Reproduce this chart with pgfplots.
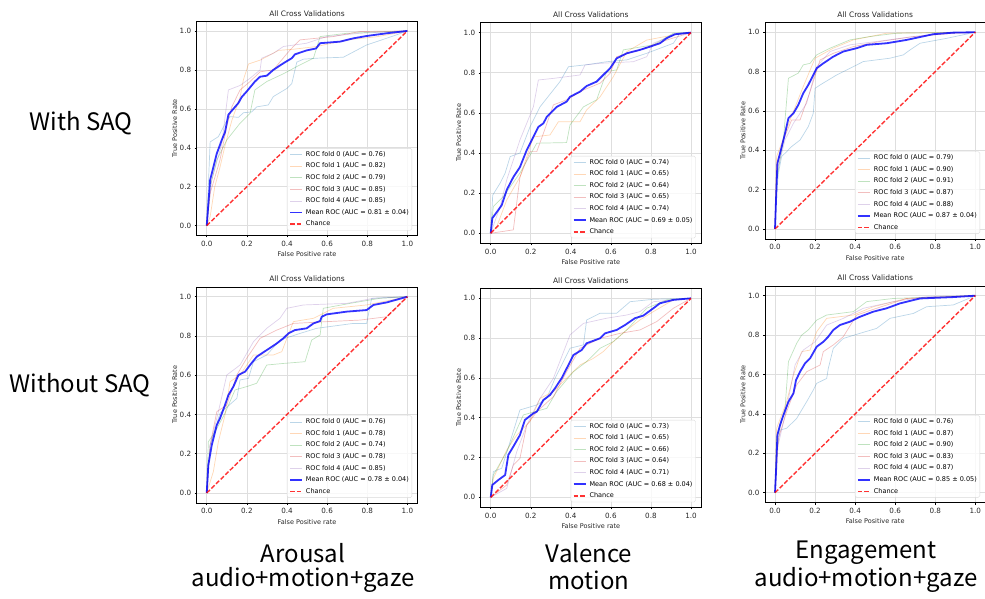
\documentclass[border=0pt]{standalone}
\usepackage{fontspec}
\setmainfont{DejaVu Sans}
\newfontfamily\jpfont{Noto Sans CJK JP}
\usepackage{pgfplots}
\pgfplotsset{compat=1.18}
\definecolor{c0}{HTML}{1F77B4}
\definecolor{c1}{HTML}{FF7F0E}
\definecolor{c2}{HTML}{2CA02C}
\definecolor{c3}{HTML}{D62728}
\definecolor{c4}{HTML}{9467BD}
\pgfplotsset{
  roc/.style={
    scale only axis, anchor=south west,
    xmin=-0.05, xmax=1.05, ymin=-0.05, ymax=1.05,
    xtick={0,0.2,0.4,0.6,0.8,1}, ytick={0,0.2,0.4,0.6,0.8,1},
    /pgf/number format/fixed, /pgf/number format/fixed zerofill,
    /pgf/number format/precision=1, /pgf/number format/assume math mode=true,
    tick label style={font=\fontsize{7.2}{8}\selectfont, text=black!85},
    grid=major, major grid style={black!13, line width=0.6pt},
    tick align=outside, tick pos=left, major tick length=2pt,
    every tick/.style={black, line width=0.5pt},
    axis line style={black, line width=0.5pt},
    title={All Cross Validations},
    every axis title shift=1.5pt,
    title style={font=\fontsize{7.5}{8}\selectfont, text=black!85},
    xlabel={False Positive rate}, ylabel={True Positive Rate},
    label style={font=\fontsize{6.5}{7}\selectfont, text=black!85},
    xlabel style={at={(axis description cs:0.5,0)}, anchor=center, yshift=-19pt},
    ylabel style={at={(axis description cs:0,0.5)}, anchor=center, yshift=22pt},
    no marks,
    legend cell align=left,
    legend style={at={(0.976,0.023)}, anchor=south east, draw=black!15, rounded corners=1.5pt,
      fill=white, fill opacity=0.8, text opacity=1, font=\fontsize{6.5}{7}\selectfont,
      inner sep=2pt, row sep=3.3pt, column sep=2pt,
      nodes={inner sep=1pt, text height=5pt, text depth=1.3pt}},
    legend image code/.code={\draw[##1] (0pt,0pt) -- (12pt,0pt);},
  },
  f0/.style={color=c0, draw opacity=0.3, line width=0.7pt, line join=round},
  f1/.style={color=c1, draw opacity=0.3, line width=0.7pt, line join=round},
  f2/.style={color=c2, draw opacity=0.3, line width=0.7pt, line join=round},
  f3/.style={color=c3, draw opacity=0.3, line width=0.7pt, line join=round},
  f4/.style={color=c4, draw opacity=0.3, line width=0.7pt, line join=round},
  mean/.style={color=blue, draw opacity=0.8, line width=1.8pt, line join=round},
  chance/.style={color=red, draw opacity=0.8, line width=1.4pt, dash pattern=on 4.5pt off 2pt},
}
\begin{document}
\begin{tikzpicture}
\path[use as bounding box] (0,0) rectangle (985pt,598pt);

% row / column labels
\node[font=\jpfont\fontsize{24}{26}\selectfont] at (81pt,475pt) {With SAQ};
\node[font=\jpfont\fontsize{24}{26}\selectfont] at (80pt,213pt) {Without SAQ};
\node[font=\jpfont\fontsize{24}{26}\selectfont] at (303pt,45pt) {Arousal};
\node[font=\jpfont\fontsize{24}{26}\selectfont] at (303pt,18pt) {audio+motion+gaze};
\node[font=\jpfont\fontsize{24}{26}\selectfont] at (589pt,45pt) {Valence};
\node[font=\jpfont\fontsize{24}{26}\selectfont] at (589pt,18pt) {motion};
\node[font=\jpfont\fontsize{24}{26}\selectfont] at (866pt,45pt) {Engagement};
\node[font=\jpfont\fontsize{24}{26}\selectfont] at (866pt,18pt) {audio+motion+gaze};

% Arousal, with SAQ
\begin{axis}[roc, at={(196.7pt,362.6pt)}, width=220.7pt, height=214.2pt]
\addplot[f0] coordinates {(0,0)(0.017,0.43)(0.058,0.457)(0.1,0.54)(0.116,0.56)(0.158,0.556)(0.183,0.58)(0.224,0.584)(0.249,0.61)(0.307,0.62)(0.332,0.663)(0.4,0.705)(0.424,0.73)(0.449,0.84)(0.482,0.855)(0.548,0.86)(0.681,0.865)(0.797,0.928)(0.93,0.974)(1,1)};
\addplot[f1] coordinates {(0,0)(0.017,0.046)(0.04,0.2)(0.066,0.30)(0.091,0.41)(0.125,0.54)(0.166,0.66)(0.183,0.75)(0.208,0.83)(0.266,0.85)(0.316,0.877)(0.357,0.90)(0.432,0.906)(0.548,0.92)(0.698,0.954)(0.847,0.97)(1,1)};
\addplot[f2] coordinates {(0,0)(0.017,0.2)(0.05,0.337)(0.1,0.44)(0.166,0.526)(0.216,0.577)(0.24,0.697)(0.299,0.74)(0.382,0.78)(0.449,0.817)(0.532,0.86)(0.565,0.971)(0.698,0.988)(1,1)};
\addplot[f3] coordinates {(0,0)(0.017,0.166)(0.066,0.337)(0.1,0.51)(0.125,0.61)(0.166,0.697)(0.216,0.74)(0.266,0.79)(0.332,0.80)(0.415,0.902)(0.465,0.954)(0.631,0.971)(0.764,0.997)(1,1)};
\addplot[f4] coordinates {(0,0)(0.025,0.235)(0.075,0.42)(0.108,0.697)(0.166,0.72)(0.216,0.757)(0.266,0.80)(0.274,0.86)(0.332,0.885)(0.382,0.92)(0.498,0.937)(0.598,0.971)(0.764,0.988)(1,1)};
\addplot[mean] coordinates {(0,0)(0.017,0.235)(0.033,0.30)(0.05,0.37)(0.075,0.44)(0.091,0.48)(0.108,0.57)(0.133,0.60)(0.158,0.63)(0.174,0.66)(0.2,0.69)(0.216,0.71)(0.24,0.74)(0.266,0.765)(0.299,0.77)(0.332,0.80)(0.382,0.834)(0.424,0.86)(0.44,0.88)(0.498,0.90)(0.545,0.91)(0.565,0.937)(0.664,0.945)(0.731,0.962)(0.797,0.974)(0.897,0.988)(1,1)};
\addplot[chance] coordinates {(0,0)(1,1)};
\legend{ROC fold 0 (AUC = 0.76),ROC fold 1 (AUC = 0.82),ROC fold 2 (AUC = 0.79),ROC fold 3 (AUC = 0.85),ROC fold 4 (AUC = 0.85),Mean ROC (AUC = 0.81 ± 0.04),Chance}
\end{axis}

% Valence, with SAQ
\begin{axis}[roc, at={(480.7pt,354.7pt)}, width=220.3pt, height=220.7pt]
\addplot[f0] coordinates {(0,0)(0.01,0.19)(0.047,0.25)(0.072,0.30)(0.097,0.382)(0.146,0.40)(0.196,0.53)(0.246,0.63)(0.346,0.756)(0.388,0.83)(0.479,0.84)(0.579,0.855)(0.679,0.864)(0.779,0.897)(0.912,0.947)(0.945,0.997)(1,1)};
\addplot[f1] coordinates {(0,0)(0.03,0.033)(0.08,0.166)(0.146,0.28)(0.213,0.48)(0.296,0.49)(0.338,0.556)(0.446,0.556)(0.479,0.615)(0.546,0.68)(0.612,0.78)(0.679,0.905)(0.779,0.963)(0.912,0.988)(1,1)};
\addplot[f2] coordinates {(0,0)(0.013,0.133)(0.063,0.183)(0.146,0.3)(0.23,0.449)(0.379,0.452)(0.396,0.54)(0.463,0.63)(0.529,0.665)(0.579,0.806)(0.629,0.814)(0.662,0.914)(0.812,0.939)(0.912,0.997)(1,1)};
\addplot[f3] coordinates {(0,0)(0.113,0.017)(0.146,0.28)(0.196,0.407)(0.23,0.407)(0.263,0.498)(0.313,0.64)(0.379,0.665)(0.463,0.714)(0.546,0.748)(0.596,0.797)(0.629,0.88)(0.745,0.914)(0.878,0.963)(1,1)};
\addplot[f4] coordinates {(0,0)(0.047,0.133)(0.08,0.266)(0.146,0.465)(0.213,0.63)(0.238,0.764)(0.313,0.772)(0.446,0.789)(0.471,0.839)(0.546,0.847)(0.712,0.855)(0.779,0.88)(0.812,0.947)(0.912,0.988)(1,1)};
\addplot[mean] coordinates {(0,0)(0.008,0.075)(0.038,0.116)(0.055,0.14)(0.08,0.216)(0.113,0.28)(0.146,0.33)(0.18,0.415)(0.213,0.48)(0.238,0.53)(0.263,0.548)(0.28,0.58)(0.33,0.63)(0.379,0.656)(0.396,0.68)(0.446,0.706)(0.479,0.734)(0.529,0.756)(0.57,0.797)(0.596,0.822)(0.629,0.872)(0.679,0.897)(0.745,0.914)(0.795,0.93)(0.845,0.947)(0.878,0.972)(0.92,0.992)(1,1)};
\addplot[chance] coordinates {(0,0)(1,1)};
\legend{ROC fold 0 (AUC = 0.74),ROC fold 1 (AUC = 0.65),ROC fold 2 (AUC = 0.64),ROC fold 3 (AUC = 0.65),ROC fold 4 (AUC = 0.74),Mean ROC (AUC = 0.69 ± 0.05),Chance}
\end{axis}

% Engagement, with SAQ
\begin{axis}[roc, at={(765pt,359.2pt)}, width=220.3pt, height=216.4pt]
\addplot[f0] coordinates {(0,0)(0.005,0.147)(0.017,0.283)(0.033,0.368)(0.058,0.393)(0.083,0.419)(0.125,0.452)(0.166,0.52)(0.191,0.588)(0.2,0.715)(0.225,0.732)(0.308,0.783)(0.391,0.825)(0.441,0.851)(0.574,0.868)(0.641,0.885)(0.674,0.91)(0.724,0.944)(0.857,0.969)(1,1)};
\addplot[f1] coordinates {(0,0)(0.008,0.368)(0.033,0.436)(0.075,0.554)(0.141,0.724)(0.2,0.868)(0.291,0.919)(0.391,0.961)(0.557,0.995)(1,1)};
\addplot[f2] coordinates {(0,0)(0.008,0.249)(0.042,0.453)(0.067,0.766)(0.116,0.792)(0.141,0.834)(0.175,0.842)(0.208,0.885)(0.275,0.919)(0.374,0.961)(0.474,0.978)(0.607,0.995)(1,1)};
\addplot[f3] coordinates {(0,0)(0.008,0.317)(0.042,0.453)(0.083,0.554)(0.125,0.554)(0.175,0.698)(0.225,0.859)(0.291,0.893)(0.391,0.927)(0.524,0.953)(0.691,0.978)(0.89,0.995)(1,1)};
\addplot[f4] coordinates {(0,0)(0.008,0.283)(0.05,0.453)(0.092,0.537)(0.158,0.639)(0.208,0.825)(0.275,0.902)(0.374,0.936)(0.507,0.953)(0.691,0.978)(0.89,0.995)(1,1)};
\addplot[mean] coordinates {(0,0)(0.005,0.147)(0.012,0.334)(0.025,0.385)(0.038,0.436)(0.05,0.486)(0.067,0.563)(0.092,0.588)(0.116,0.63)(0.141,0.69)(0.166,0.732)(0.208,0.817)(0.241,0.842)(0.291,0.876)(0.341,0.902)(0.408,0.919)(0.458,0.936)(0.557,0.944)(0.657,0.961)(0.79,0.99)(0.89,0.998)(1,1)};
\addplot[chance] coordinates {(0,0)(1,1)};
\legend{ROC fold 0 (AUC = 0.79),ROC fold 1 (AUC = 0.90),ROC fold 2 (AUC = 0.91),ROC fold 3 (AUC = 0.87),ROC fold 4 (AUC = 0.88),Mean ROC (AUC = 0.87 ± 0.04),Chance}
\end{axis}

% Arousal, without SAQ
\begin{axis}[roc, at={(196.7pt,95.2pt)}, width=220.7pt, height=215.9pt]
\addplot[f0] coordinates {(0,0)(0.017,0.244)(0.066,0.406)(0.15,0.482)(0.166,0.576)(0.208,0.584)(0.233,0.669)(0.299,0.703)(0.365,0.779)(0.415,0.796)(0.465,0.813)(0.548,0.839)(0.731,0.864)(0.797,0.864)(0.822,0.992)(1,1)};
\addplot[f1] coordinates {(0,0)(0.033,0.109)(0.058,0.261)(0.091,0.397)(0.116,0.567)(0.166,0.601)(0.233,0.703)(0.332,0.703)(0.374,0.72)(0.432,0.873)(0.532,0.89)(0.631,0.941)(0.797,0.958)(1,1)};
\addplot[f2] coordinates {(0,0)(0.008,0.261)(0.042,0.312)(0.091,0.406)(0.141,0.525)(0.199,0.542)(0.249,0.559)(0.299,0.652)(0.382,0.66)(0.49,0.669)(0.523,0.779)(0.565,0.805)(0.581,0.941)(0.714,0.966)(0.864,0.992)(1,1)};
\addplot[f3] coordinates {(0,0)(0.017,0.244)(0.05,0.414)(0.1,0.448)(0.15,0.601)(0.199,0.686)(0.266,0.788)(0.349,0.83)(0.432,0.864)(0.598,0.873)(0.764,0.881)(0.897,0.898)(1,1)};
\addplot[f4] coordinates {(0,0)(0.017,0.244)(0.058,0.414)(0.1,0.601)(0.166,0.652)(0.233,0.771)(0.299,0.839)(0.365,0.89)(0.399,0.941)(0.482,0.958)(0.698,0.966)(0.831,0.992)(1,1)};
\addplot[mean] coordinates {(0,0)(0.008,0.143)(0.025,0.244)(0.05,0.346)(0.066,0.38)(0.091,0.448)(0.108,0.499)(0.133,0.542)(0.158,0.601)(0.191,0.618)(0.216,0.652)(0.249,0.694)(0.299,0.728)(0.349,0.762)(0.382,0.788)(0.407,0.813)(0.44,0.83)(0.498,0.839)(0.532,0.864)(0.565,0.876)(0.573,0.898)(0.598,0.91)(0.698,0.924)(0.797,0.932)(0.831,0.958)(0.897,0.971)(1,1)};
\addplot[chance] coordinates {(0,0)(1,1)};
\legend{ROC fold 0 (AUC = 0.76),ROC fold 1 (AUC = 0.78),ROC fold 2 (AUC = 0.74),ROC fold 3 (AUC = 0.78),ROC fold 4 (AUC = 0.85),Mean ROC (AUC = 0.78 ± 0.04),Chance}
\end{axis}

% Valence, without SAQ
\begin{axis}[roc, at={(480.7pt,90.75pt)}, width=220.3pt, height=218.9pt]
\addplot[f0] coordinates {(0,0)(0.013,0.129)(0.055,0.146)(0.097,0.28)(0.146,0.439)(0.23,0.464)(0.28,0.497)(0.321,0.598)(0.396,0.749)(0.463,0.766)(0.479,0.891)(0.546,0.925)(0.629,0.925)(0.696,0.983)(0.812,0.995)(1,1)};
\addplot[f1] coordinates {(0,0)(0.013,0.095)(0.08,0.238)(0.13,0.313)(0.196,0.38)(0.246,0.497)(0.313,0.531)(0.379,0.598)(0.446,0.665)(0.512,0.698)(0.562,0.732)(0.612,0.782)(0.679,0.841)(0.745,0.891)(0.812,0.933)(0.912,0.992)(1,1)};
\addplot[f2] coordinates {(0,0)(0.013,0.112)(0.08,0.229)(0.163,0.414)(0.28,0.447)(0.329,0.531)(0.413,0.631)(0.479,0.682)(0.546,0.749)(0.612,0.782)(0.679,0.841)(0.779,0.95)(0.879,0.992)(1,1)};
\addplot[f3] coordinates {(0,0)(0.08,0.062)(0.113,0.162)(0.146,0.196)(0.18,0.363)(0.23,0.43)(0.313,0.506)(0.379,0.631)(0.446,0.749)(0.546,0.799)(0.646,0.824)(0.745,0.841)(0.829,0.883)(0.912,0.95)(1,1)};
\addplot[f4] coordinates {(0,0)(0.08,0.045)(0.13,0.229)(0.18,0.363)(0.246,0.497)(0.313,0.598)(0.396,0.816)(0.463,0.874)(0.579,0.9)(0.679,0.916)(0.745,0.933)(0.812,0.983)(1,1)};
\addplot[mean] coordinates {(0,0)(0.008,0.062)(0.038,0.087)(0.072,0.112)(0.088,0.213)(0.113,0.255)(0.146,0.313)(0.171,0.389)(0.213,0.422)(0.23,0.43)(0.263,0.489)(0.296,0.514)(0.321,0.548)(0.354,0.598)(0.388,0.665)(0.413,0.715)(0.454,0.74)(0.479,0.774)(0.546,0.799)(0.571,0.824)(0.629,0.841)(0.671,0.866)(0.72,0.9)(0.762,0.913)(0.812,0.95)(0.845,0.975)(0.912,0.992)(1,1)};
\addplot[chance] coordinates {(0,0)(1,1)};
\legend{ROC fold 0 (AUC = 0.73),ROC fold 1 (AUC = 0.65),ROC fold 2 (AUC = 0.66),ROC fold 3 (AUC = 0.64),ROC fold 4 (AUC = 0.71),Mean ROC (AUC = 0.68 ± 0.04),Chance}
\end{axis}

% Engagement, without SAQ
\begin{axis}[roc, at={(765pt,95.45pt)}, width=220.3pt, height=216.7pt]
\addplot[f0] coordinates {(0,0)(0.008,0.208)(0.025,0.318)(0.058,0.327)(0.108,0.377)(0.158,0.462)(0.191,0.521)(0.208,0.555)(0.258,0.58)(0.266,0.631)(0.291,0.733)(0.341,0.783)(0.424,0.809)(0.507,0.834)(0.574,0.885)(0.691,0.91)(0.757,0.944)(0.89,0.953)(1,1)};
\addplot[f1] coordinates {(0,0)(0.008,0.327)(0.058,0.462)(0.092,0.597)(0.133,0.716)(0.175,0.724)(0.208,0.817)(0.258,0.885)(0.391,0.902)(0.491,0.944)(0.657,0.986)(1,1)};
\addplot[f2] coordinates {(0,0)(0.008,0.276)(0.05,0.428)(0.067,0.665)(0.108,0.758)(0.133,0.8)(0.166,0.826)(0.208,0.876)(0.258,0.902)(0.391,0.919)(0.458,0.97)(0.591,0.986)(1,1)};
\addplot[f3] coordinates {(0,0)(0.017,0.276)(0.058,0.411)(0.108,0.547)(0.158,0.614)(0.225,0.648)(0.241,0.716)(0.291,0.75)(0.341,0.792)(0.408,0.902)(0.507,0.936)(0.657,0.986)(1,1)};
\addplot[f4] coordinates {(0,0)(0.008,0.208)(0.058,0.428)(0.1,0.648)(0.141,0.724)(0.2,0.766)(0.258,0.851)(0.341,0.885)(0.441,0.936)(0.591,0.97)(0.757,0.995)(1,1)};
\addplot[mean] coordinates {(0,0)(0.005,0.107)(0.012,0.293)(0.025,0.343)(0.042,0.394)(0.067,0.462)(0.092,0.504)(0.105,0.572)(0.125,0.614)(0.15,0.657)(0.175,0.682)(0.208,0.741)(0.241,0.766)(0.266,0.792)(0.291,0.826)(0.324,0.851)(0.374,0.868)(0.424,0.893)(0.491,0.919)(0.557,0.936)(0.624,0.961)(0.724,0.986)(0.89,0.993)(1,1)};
\addplot[chance] coordinates {(0,0)(1,1)};
\legend{ROC fold 0 (AUC = 0.76),ROC fold 1 (AUC = 0.87),ROC fold 2 (AUC = 0.90),ROC fold 3 (AUC = 0.83),ROC fold 4 (AUC = 0.87),Mean ROC (AUC = 0.85 ± 0.05),Chance}
\end{axis}
\end{tikzpicture}
\end{document}
